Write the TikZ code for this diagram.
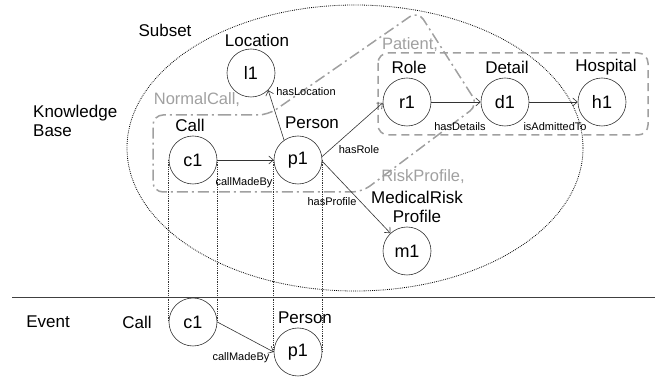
\documentclass[tikz,border=0pt]{standalone}
\usepackage{fontspec}
\setmainfont{Liberation Sans}
\usetikzlibrary{arrows.meta}
\definecolor{grp}{HTML}{A0A0A0}
\begin{document}
\begin{tikzpicture}[x=1pt,y=-1pt,
  inst/.style={circle,draw=black!80,line width=0.6pt,minimum size=48pt,inner sep=0pt,
    font=\fontsize{18}{20}\selectfont},
  cls/.style={font=\fontsize{17}{19}\selectfont,inner sep=0pt},
  grplbl/.style={font=\fontsize{16.5}{18}\selectfont,text=grp,inner sep=0pt},
  rel/.style={font=\fontsize{11}{13}\selectfont,inner sep=0pt},
  link/.style={draw=black!80,line width=0.6pt,-{Straight Barb[length=4.5pt,width=8pt]}},
  proj/.style={draw=black!80,line width=0.7pt,dash pattern=on 0.7pt off 1.1pt},
  subsetline/.style={draw=black,line width=0.8pt,dash pattern=on 0.8pt off 1.1pt},
  dashdotline/.style={draw=grp,line width=1.5pt,dash pattern=on 11pt off 4pt on 2pt off 4pt,rounded corners=10pt},
  dashline/.style={draw=grp,line width=1.5pt,dash pattern=on 8pt off 5pt,rounded corners=10pt},
]
\useasboundingbox (0,0) rectangle (665,379);

% subset of the knowledge base
\draw[subsetline] (355,148) ellipse [x radius=228, y radius=143];

% NormalCall / Patient / RiskProfile region
\draw[dashdotline] (210,115) -- (268,115) -- (418,11) -- (478,105) -- (362,192)
  -- (153,192) -- (153,115) -- cycle;

% Patient region
\draw[dashline] (378,53) rectangle (648,135);

% separator between knowledge base and event
\coordinate (sepL) at (12,297);
\coordinate (sepR) at (655,297);
\draw[black!75,line width=0.8pt] (sepL) -- (sepR);

% instances in the knowledge base
\node[inst] (c1) at (193,160) {c1};
\node[inst] (p1) at (298,160) {p1};
\node[inst] (l1) at (251,73) {l1};
\node[inst] (r1) at (407,102) {r1};
\node[inst] (d1) at (505,102) {d1};
\node[inst] (h1) at (602,102) {h1};
\node[inst] (m1) at (407,251) {m1};

% instances in the event
\node[inst] (c1b) at (193,322) {c1};
\node[inst] (p1b) at (298,352) {p1};

% projections from the event onto the knowledge base
\draw[proj] (c1.west) -- (c1b.west);
\draw[proj] (c1.east) -- (c1b.east);
\draw[proj] (p1.west) -- (p1b.west);
\draw[proj] (p1.east) -- (p1b.east);

% relations
\draw[link] (c1) -- (p1) node[rel] (lblcall) at (244,183) {callMadeBy};
\draw[link] (p1.125) -- (l1.-45) node[rel] (lblloc) at (306,92) {hasLocation};
\draw[link] (p1.8) -- (r1.182) node[rel] (lblrole) at (359,150) {hasRole};
\draw[link] (p1.-3) -- (m1.133) node[rel] (lblprof) at (332,202) {hasProfile};
\draw[link] (r1) -- (d1) node[rel] (lbldet) at (460,127) {hasDetails};
\draw[link] (d1) -- (h1) node[rel] (lbladm) at (555,127) {isAdmittedTo};
\draw[link] (c1b.east) -- (p1b.west) node[rel] (lblcallb) at (241,358) {callMadeBy};

% class labels
\node[cls] (tLocation) at (257,40) {Location};
\node[cls] (tCall) at (190,125) {Call};
\node[cls] (tPerson) at (312,123) {Person};
\node[cls] (tRole) at (409,67) {Role};
\node[cls] (tDetail) at (507,67) {Detail};
\node[cls] (tHospital) at (606,67) {Hospital};
\node[cls,align=center] (tMedical) at (417,207) {MedicalRisk\\Profile};
\node[cls] (tCallb) at (137,322) {Call};
\node[cls] (tPersonb) at (305,318) {Person};

% region labels
\node[cls] (tSubset) at (165,30) {Subset};
\node[cls,align=left,anchor=west] (tKB) at (33,121) {Knowledge\\Base};
\node[cls] (tEvent) at (48,322) {Event};

% group labels
\node[grplbl] (gNormal) at (197,100) {NormalCall,};
\node[grplbl] (gPatient) at (410,45) {Patient,};
\node[grplbl] (gRisk) at (423,177) {RiskProfile,};
\end{tikzpicture}
\end{document}
